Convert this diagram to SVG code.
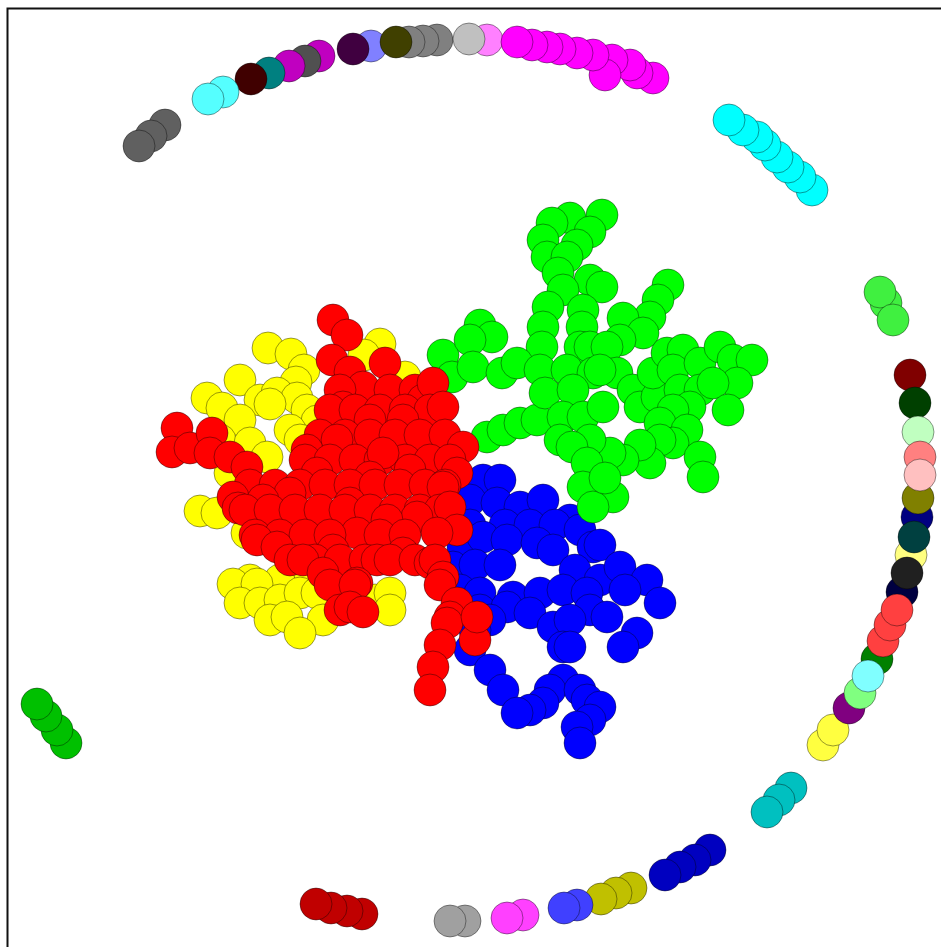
<svg xmlns="http://www.w3.org/2000/svg" width="941" height="947" viewBox="0 0 941 947">
<style>
circle{stroke:#000;stroke-opacity:.4;stroke-width:1}
.Y circle{fill:#ffff00}.B circle{fill:#0000ff}.G circle{fill:#00ff00}.R circle{fill:#ff0000}
</style>
<rect width="941" height="947" fill="#fff"/>
<path d="M7.5,947 V8.5 H941" fill="none" stroke="#111" stroke-width="2"/>
<g id="ring">
<g id="ring-top-left">
<circle cx="165" cy="125" r="16" fill="#606060"/><circle cx="151" cy="136" r="16" fill="#606060"/><circle cx="139" cy="146" r="16" fill="#606060"/>
<circle cx="319" cy="56" r="16" fill="#c000c0"/><circle cx="305" cy="61" r="16" fill="#505050"/><circle cx="289" cy="66" r="16" fill="#c000c0"/>
<circle cx="269" cy="73" r="16" fill="#008080"/><circle cx="251" cy="79" r="16" fill="#400000"/>
<circle cx="223" cy="92" r="16" fill="#55ffff"/><circle cx="208" cy="99" r="16" fill="#55ffff"/>
<circle cx="371" cy="46" r="16" fill="#8080ff"/><circle cx="353" cy="49" r="16" fill="#400040"/>
<circle cx="437" cy="40" r="16" fill="#808080"/><circle cx="423" cy="41" r="16" fill="#808080"/><circle cx="409" cy="42" r="16" fill="#808080"/>
<circle cx="396" cy="42" r="16" fill="#404000"/>
<circle cx="487" cy="40" r="16" fill="#ff80ff"/><circle cx="469" cy="39" r="16" fill="#c0c0c0"/>
</g>
<g id="ring-magenta">
<circle cx="653" cy="78" r="16" fill="#ff00ff"/><circle cx="637" cy="73" r="16" fill="#ff00ff"/><circle cx="630" cy="65" r="16" fill="#ff00ff"/>
<circle cx="612" cy="60" r="16" fill="#ff00ff"/><circle cx="605" cy="75" r="16" fill="#ff00ff"/><circle cx="593" cy="55" r="16" fill="#ff00ff"/>
<circle cx="577" cy="53" r="16" fill="#ff00ff"/><circle cx="560" cy="49" r="16" fill="#ff00ff"/><circle cx="547" cy="47" r="16" fill="#ff00ff"/>
<circle cx="532" cy="45" r="16" fill="#ff00ff"/><circle cx="517" cy="42" r="16" fill="#ff00ff"/>
</g>
<g id="ring-cyan">
<circle cx="812" cy="190" r="16" fill="#00ffff"/><circle cx="800" cy="177" r="16" fill="#00ffff"/><circle cx="788" cy="167" r="16" fill="#00ffff"/>
<circle cx="777" cy="157" r="16" fill="#00ffff"/><circle cx="765" cy="145" r="16" fill="#00ffff"/><circle cx="757" cy="137" r="16" fill="#00ffff"/>
<circle cx="743" cy="130" r="16" fill="#00ffff"/><circle cx="729" cy="120" r="16" fill="#00ffff"/>
</g>
<g id="ring-right">
<circle cx="886" cy="303" r="16" fill="#40f040"/><circle cx="880" cy="292" r="16" fill="#40f040"/><circle cx="893" cy="320" r="16" fill="#40f040"/>
<circle cx="910" cy="375" r="16" fill="#800000"/><circle cx="915" cy="403" r="16" fill="#004000"/><circle cx="918" cy="432" r="16" fill="#c0ffc0"/>
<circle cx="920" cy="457" r="16" fill="#ff8080"/><circle cx="917" cy="517" r="16" fill="#000080"/><circle cx="918" cy="498" r="16" fill="#808000"/>
<circle cx="920" cy="475" r="16" fill="#ffc0c0"/><circle cx="911" cy="555" r="16" fill="#ffff80"/><circle cx="914" cy="537" r="16" fill="#004040"/>
<circle cx="902" cy="592" r="16" fill="#000040"/><circle cx="907" cy="573" r="16" fill="#202020"/>
<circle cx="823" cy="745" r="16" fill="#ffff40"/><circle cx="833" cy="730" r="16" fill="#ffff40"/>
<circle cx="849" cy="708" r="16" fill="#800080"/><circle cx="860" cy="693" r="16" fill="#80ff80"/>
<circle cx="877" cy="659" r="16" fill="#008000"/>
<circle cx="883" cy="641" r="16" fill="#ff4040"/><circle cx="890" cy="625" r="16" fill="#ff4040"/><circle cx="897" cy="610" r="16" fill="#ff4040"/>
<circle cx="868" cy="676" r="16" fill="#80ffff"/>
</g>
<g id="ring-bottom">
<circle cx="791" cy="788" r="16" fill="#00c0c0"/><circle cx="779" cy="800" r="16" fill="#00c0c0"/><circle cx="767" cy="812" r="16" fill="#00c0c0"/>
<circle cx="710" cy="850" r="16" fill="#0000c0"/><circle cx="695" cy="860" r="16" fill="#0000c0"/><circle cx="680" cy="867" r="16" fill="#0000c0"/><circle cx="665" cy="875" r="16" fill="#0000c0"/>
<circle cx="631" cy="888" r="16" fill="#c0c000"/><circle cx="616" cy="893" r="16" fill="#c0c000"/><circle cx="601" cy="899" r="16" fill="#c0c000"/>
<circle cx="577" cy="905" r="16" fill="#4040ff"/><circle cx="564" cy="908" r="16" fill="#4040ff"/>
<circle cx="523" cy="915" r="16" fill="#ff40ff"/><circle cx="507" cy="918" r="16" fill="#ff40ff"/>
<circle cx="465" cy="921" r="16" fill="#a0a0a0"/><circle cx="450" cy="921" r="16" fill="#a0a0a0"/>
<circle cx="362" cy="914" r="16" fill="#c00000"/><circle cx="347" cy="911" r="16" fill="#c00000"/><circle cx="331" cy="908" r="16" fill="#c00000"/><circle cx="316" cy="904" r="16" fill="#c00000"/>
<circle cx="66" cy="743" r="16" fill="#00c000"/><circle cx="57" cy="730" r="16" fill="#00c000"/><circle cx="46" cy="716" r="16" fill="#00c000"/><circle cx="37" cy="704" r="16" fill="#00c000"/>
</g>
</g>
<g id="cluster-yellow" class="Y">
<circle cx="268" cy="348" r="16"/><circle cx="291" cy="354" r="16"/><circle cx="304" cy="370" r="16"/><circle cx="296" cy="382" r="16"/>
<circle cx="380" cy="344" r="16"/><circle cx="405" cy="377" r="16"/><circle cx="364" cy="355" r="16"/><circle cx="240" cy="380" r="16"/>
<circle cx="260" cy="400" r="16"/><circle cx="277" cy="393" r="16"/><circle cx="297" cy="398" r="16"/><circle cx="207" cy="398" r="16"/>
<circle cx="222" cy="408" r="16"/><circle cx="240" cy="420" r="16"/><circle cx="270" cy="404" r="16"/><circle cx="307" cy="410" r="16"/>
<circle cx="317" cy="421" r="16"/><circle cx="290" cy="430" r="16"/><circle cx="220" cy="440" r="16"/><circle cx="300" cy="440" r="16"/>
<circle cx="250" cy="443" r="16"/><circle cx="267" cy="457" r="16"/><circle cx="230" cy="473" r="16"/><circle cx="200" cy="511" r="16"/>
<circle cx="217" cy="513" r="16"/><circle cx="247" cy="533" r="16"/><circle cx="250" cy="580" r="16"/><circle cx="280" cy="580" r="16"/>
<circle cx="310" cy="575" r="16"/><circle cx="233" cy="584" r="16"/><circle cx="257" cy="584" r="16"/><circle cx="240" cy="603" r="16"/>
<circle cx="260" cy="603" r="16"/><circle cx="280" cy="600" r="16"/><circle cx="300" cy="593" r="16"/><circle cx="317" cy="593" r="16"/>
<circle cx="337" cy="587" r="16"/><circle cx="270" cy="620" r="16"/><circle cx="287" cy="617" r="16"/><circle cx="323" cy="620" r="16"/>
<circle cx="300" cy="633" r="16"/><circle cx="375" cy="600" r="16"/><circle cx="390" cy="593" r="16"/><circle cx="390" cy="610" r="16"/>
</g>
<g id="cluster-blue" class="B">
<circle cx="483" cy="480" r="16"/><circle cx="500" cy="480" r="16"/><circle cx="470" cy="500" r="16"/><circle cx="497" cy="503" r="16"/>
<circle cx="520" cy="507" r="16"/><circle cx="543" cy="500" r="16"/><circle cx="570" cy="520" r="16"/><circle cx="470" cy="525" r="16"/>
<circle cx="505" cy="525" r="16"/><circle cx="530" cy="525" r="16"/><circle cx="555" cy="525" r="16"/><circle cx="580" cy="530" r="16"/>
<circle cx="593" cy="547" r="16"/><circle cx="600" cy="545" r="16"/><circle cx="463" cy="547" r="16"/><circle cx="483" cy="537" r="16"/>
<circle cx="507" cy="540" r="16"/><circle cx="537" cy="543" r="16"/><circle cx="553" cy="550" r="16"/><circle cx="453" cy="567" r="16"/>
<circle cx="475" cy="565" r="16"/><circle cx="500" cy="565" r="16"/><circle cx="575" cy="570" r="16"/><circle cx="600" cy="580" r="16"/>
<circle cx="620" cy="567" r="16"/><circle cx="647" cy="580" r="16"/><circle cx="625" cy="590" r="16"/><circle cx="660" cy="603" r="16"/>
<circle cx="460" cy="590" r="16"/><circle cx="480" cy="593" r="16"/><circle cx="513" cy="597" r="16"/><circle cx="540" cy="593" r="16"/>
<circle cx="563" cy="590" r="16"/><circle cx="587" cy="593" r="16"/><circle cx="480" cy="610" r="16"/><circle cx="507" cy="607" r="16"/>
<circle cx="530" cy="613" r="16"/><circle cx="590" cy="610" r="16"/><circle cx="607" cy="617" r="16"/><circle cx="490" cy="620" r="16"/>
<circle cx="553" cy="627" r="16"/><circle cx="570" cy="620" r="16"/><circle cx="475" cy="630" r="16"/><circle cx="637" cy="633" r="16"/>
<circle cx="623" cy="647" r="16"/><circle cx="563" cy="647" r="16"/><circle cx="570" cy="647" r="16"/><circle cx="470" cy="650" r="16"/>
<circle cx="490" cy="670" r="16"/><circle cx="563" cy="680" r="16"/><circle cx="503" cy="690" r="16"/><circle cx="550" cy="690" r="16"/>
<circle cx="580" cy="690" r="16"/><circle cx="587" cy="700" r="16"/><circle cx="543" cy="703" r="16"/><circle cx="530" cy="710" r="16"/>
<circle cx="517" cy="713" r="16"/><circle cx="600" cy="707" r="16"/><circle cx="590" cy="720" r="16"/><circle cx="577" cy="727" r="16"/>
<circle cx="580" cy="743" r="16"/>
</g>
<g id="cluster-green" class="G">
<circle cx="602" cy="215" r="16"/><circle cx="570" cy="218" r="16"/><circle cx="552" cy="223" r="16"/><circle cx="590" cy="232" r="16"/>
<circle cx="543" cy="240" r="16"/><circle cx="577" cy="245" r="16"/><circle cx="547" cy="257" r="16"/><circle cx="567" cy="257" r="16"/>
<circle cx="558" cy="273" r="16"/><circle cx="590" cy="280" r="16"/><circle cx="602" cy="287" r="16"/><circle cx="563" cy="290" r="16"/>
<circle cx="548" cy="307" r="16"/><circle cx="583" cy="310" r="16"/><circle cx="543" cy="327" r="16"/><circle cx="582" cy="327" r="16"/>
<circle cx="542" cy="347" r="16"/><circle cx="580" cy="347" r="16"/>
<circle cx="668" cy="285" r="16"/><circle cx="658" cy="300" r="16"/><circle cx="650" cy="317" r="16"/><circle cx="623" cy="318" r="16"/>
<circle cx="643" cy="333" r="16"/><circle cx="620" cy="340" r="16"/>
<circle cx="443" cy="355" r="16"/><circle cx="452" cy="377" r="16"/><circle cx="480" cy="325" r="16"/><circle cx="492" cy="337" r="16"/>
<circle cx="470" cy="340" r="16"/><circle cx="473" cy="367" r="16"/><circle cx="502" cy="373" r="16"/><circle cx="517" cy="363" r="16"/>
<circle cx="487" cy="437" r="16"/><circle cx="503" cy="430" r="16"/><circle cx="520" cy="423" r="16"/><circle cx="537" cy="420" r="16"/>
<circle cx="540" cy="370" r="16"/><circle cx="545" cy="393" r="16"/><circle cx="567" cy="370" r="16"/><circle cx="590" cy="347" r="16"/>
<circle cx="607" cy="347" r="16"/><circle cx="593" cy="373" r="16"/><circle cx="617" cy="373" r="16"/><circle cx="600" cy="370" r="16"/>
<circle cx="573" cy="390" r="16"/><circle cx="563" cy="417" r="16"/><circle cx="583" cy="417" r="16"/><circle cx="603" cy="407" r="16"/>
<circle cx="633" cy="390" r="16"/><circle cx="640" cy="407" r="16"/><circle cx="657" cy="397" r="16"/><circle cx="653" cy="373" r="16"/>
<circle cx="667" cy="353" r="16"/><circle cx="683" cy="350" r="16"/><circle cx="673" cy="370" r="16"/><circle cx="700" cy="363" r="16"/>
<circle cx="680" cy="390" r="16"/><circle cx="700" cy="390" r="16"/>
<circle cx="720" cy="347" r="16"/><circle cx="733" cy="360" r="16"/><circle cx="752" cy="360" r="16"/><circle cx="737" cy="383" r="16"/>
<circle cx="713" cy="383" r="16"/><circle cx="728" cy="410" r="16"/><circle cx="690" cy="407" r="16"/><circle cx="673" cy="410" r="16"/>
<circle cx="660" cy="423" r="16"/><circle cx="687" cy="430" r="16"/><circle cx="673" cy="443" r="16"/><circle cx="660" cy="440" r="16"/>
<circle cx="700" cy="457" r="16"/><circle cx="703" cy="477" r="16"/><circle cx="650" cy="463" r="16"/><circle cx="640" cy="445" r="16"/>
<circle cx="623" cy="460" r="16"/><circle cx="610" cy="453" r="16"/><circle cx="590" cy="440" r="16"/><circle cx="560" cy="440" r="16"/>
<circle cx="572" cy="447" r="16"/><circle cx="587" cy="463" r="16"/><circle cx="583" cy="487" r="16"/><circle cx="613" cy="497" r="16"/>
<circle cx="593" cy="507" r="16"/><circle cx="605" cy="478" r="16"/>
</g>
<g id="cluster-red" class="R">
<circle cx="333" cy="320" r="16"/><circle cx="347" cy="335" r="16"/><circle cx="332" cy="360" r="16"/><circle cx="350" cy="372" r="16"/>
<circle cx="385" cy="363" r="16"/><circle cx="363" cy="387" r="16"/><circle cx="340" cy="390" r="16"/><circle cx="390" cy="390" r="16"/>
<circle cx="415" cy="390" r="16"/><circle cx="423" cy="400" r="16"/><circle cx="433" cy="383" r="16"/><circle cx="343" cy="407" r="16"/>
<circle cx="330" cy="410" r="16"/><circle cx="355" cy="410" r="16"/><circle cx="380" cy="410" r="16"/><circle cx="405" cy="410" r="16"/>
<circle cx="430" cy="410" r="16"/><circle cx="443" cy="407" r="16"/><circle cx="370" cy="420" r="16"/><circle cx="403" cy="420" r="16"/>
<circle cx="320" cy="435" r="16"/><circle cx="345" cy="435" r="16"/><circle cx="370" cy="435" r="16"/><circle cx="395" cy="435" r="16"/>
<circle cx="420" cy="435" r="16"/><circle cx="445" cy="435" r="16"/><circle cx="337" cy="440" r="16"/><circle cx="463" cy="447" r="16"/>
<circle cx="177" cy="428" r="16"/><circle cx="172" cy="452" r="16"/><circle cx="190" cy="448" r="16"/><circle cx="212" cy="433" r="16"/>
<circle cx="210" cy="453" r="16"/><circle cx="230" cy="457" r="16"/><circle cx="247" cy="467" r="16"/><circle cx="307" cy="450" r="16"/>
<circle cx="305" cy="460" r="16"/><circle cx="330" cy="460" r="16"/><circle cx="355" cy="460" r="16"/><circle cx="380" cy="460" r="16"/>
<circle cx="405" cy="460" r="16"/><circle cx="430" cy="460" r="16"/><circle cx="450" cy="460" r="16"/><circle cx="383" cy="453" r="16"/>
<circle cx="410" cy="470" r="16"/><circle cx="457" cy="473" r="16"/><circle cx="317" cy="473" r="16"/><circle cx="370" cy="477" r="16"/>
<circle cx="250" cy="485" r="16"/><circle cx="275" cy="485" r="16"/><circle cx="300" cy="485" r="16"/><circle cx="325" cy="485" r="16"/>
<circle cx="350" cy="485" r="16"/><circle cx="375" cy="485" r="16"/><circle cx="400" cy="485" r="16"/><circle cx="425" cy="485" r="16"/>
<circle cx="445" cy="485" r="16"/><circle cx="443" cy="487" r="16"/><circle cx="290" cy="493" r="16"/><circle cx="233" cy="497" r="16"/>
<circle cx="263" cy="500" r="16"/><circle cx="350" cy="503" r="16"/><circle cx="238" cy="508" r="16"/><circle cx="245" cy="510" r="16"/>
<circle cx="270" cy="510" r="16"/><circle cx="295" cy="510" r="16"/><circle cx="320" cy="510" r="16"/><circle cx="345" cy="510" r="16"/>
<circle cx="370" cy="510" r="16"/><circle cx="395" cy="510" r="16"/><circle cx="420" cy="510" r="16"/><circle cx="440" cy="510" r="16"/>
<circle cx="450" cy="507" r="16"/><circle cx="417" cy="517" r="16"/><circle cx="387" cy="520" r="16"/><circle cx="457" cy="530" r="16"/>
<circle cx="437" cy="533" r="16"/><circle cx="357" cy="533" r="16"/><circle cx="255" cy="535" r="16"/><circle cx="280" cy="535" r="16"/>
<circle cx="305" cy="535" r="16"/><circle cx="330" cy="535" r="16"/><circle cx="380" cy="535" r="16"/><circle cx="405" cy="535" r="16"/>
<circle cx="257" cy="540" r="16"/><circle cx="277" cy="547" r="16"/><circle cx="333" cy="550" r="16"/><circle cx="403" cy="553" r="16"/>
<circle cx="290" cy="560" r="16"/><circle cx="315" cy="560" r="16"/><circle cx="303" cy="560" r="16"/><circle cx="340" cy="560" r="16"/>
<circle cx="365" cy="560" r="16"/><circle cx="377" cy="560" r="16"/><circle cx="390" cy="560" r="16"/><circle cx="415" cy="560" r="16"/>
<circle cx="430" cy="563" r="16"/><circle cx="435" cy="560" r="16"/><circle cx="323" cy="573" r="16"/><circle cx="443" cy="577" r="16"/>
<circle cx="357" cy="583" r="16"/><circle cx="330" cy="585" r="16"/><circle cx="355" cy="585" r="16"/><circle cx="440" cy="585" r="16"/>
<circle cx="340" cy="610" r="16"/><circle cx="350" cy="607" r="16"/><circle cx="363" cy="612" r="16"/><circle cx="457" cy="603" r="16"/>
<circle cx="450" cy="617" r="16"/><circle cx="447" cy="623" r="16"/><circle cx="440" cy="645" r="16"/><circle cx="433" cy="667" r="16"/>
<circle cx="430" cy="690" r="16"/><circle cx="475" cy="640" r="16"/><circle cx="477" cy="617" r="16"/>
</g>
</svg>
